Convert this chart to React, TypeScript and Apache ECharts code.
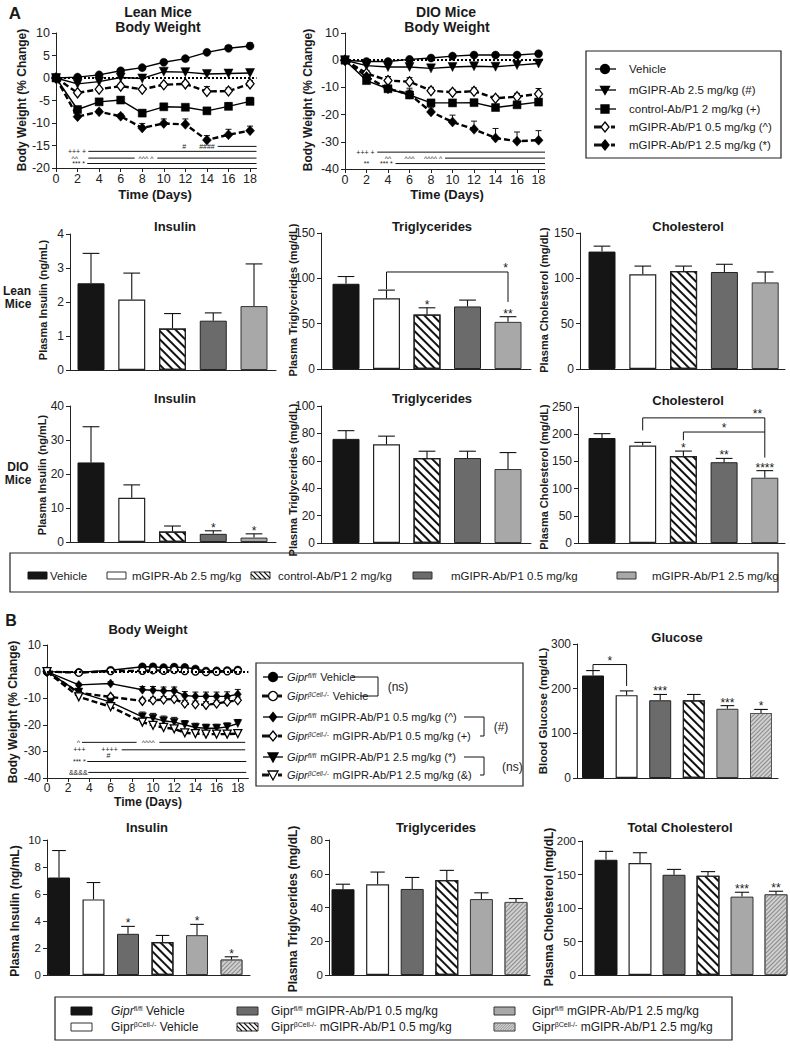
import React, { useEffect, useRef } from 'react';
import * as echarts from 'echarts';

const W = 790;
const H = 1054;
const FONT = '"Liberation Sans", Arial, Helvetica, sans-serif';
const NARROW = '"Liberation Sans Narrow", "Liberation Sans", Arial, sans-serif';
const INK = '#1a1a1a';

// ---------------- Panel A: body weight ----------------
const leanDays = [0, 2, 4, 6, 8, 10, 12, 14, 16, 18];
const leanVehicle = [0, 0.2, 0.7, 1.6, 2.3, 3.5, 4.3, 5.7, 6.6, 7.1];
const leanVehicleErr = [0, 0.3, 0.3, 0.4, 0.4, 0.5, 0.5, 0.5, 0.6, 0.7];
const leanAb = [0, -1.3, -0.8, 0.1, -0.1, 1.4, 1.3, 0.9, 1.0, 1.1];
const leanAbErr = [0, 0.3, 0.4, 0.4, 0.4, 0.5, 0.5, 0.5, 0.5, 0.5];
const leanCtrl = [0, -7, -5.3, -4.9, -7.8, -6.4, -6.5, -7.3, -6.3, -5.2];
const leanCtrlErr = [0, 0.5, 0.5, 0.5, 0.6, 0.6, 0.6, 0.6, 0.8, 0.9];
const leanP05 = [0, -3.3, -2.5, -1.8, -2.5, -1.5, -1.3, -3, -2.9, -1.3];
const leanP05Err = [0, 0.4, 0.4, 0.4, 0.4, 0.5, 0.5, 1.1, 0.7, 0.7];
const leanP25 = [0, -8.6, -7.5, -8.5, -11.1, -10.1, -10.3, -13.8, -12.6, -11.7];
const leanP25Err = [0, 0.4, 0.4, 0.5, 1.0, 1.0, 1.2, 1.0, 1.2, 1.0];

const dioDays = [0, 2, 4, 6, 8, 10, 12, 14, 16, 18];
const dioVehicle = [0, -0.5, -0.5, 0.3, 0.8, 1.5, 1.9, 1.9, 1.9, 2.4];
const dioVehicleErr = [0, 0.6, 0.6, 0.6, 0.7, 0.7, 0.7, 0.7, 0.7, 0.8];
const dioAb = [0, -2, -2.5, -2.5, -3, -2.5, -2.2, -2.4, -1.8, -1.2];
const dioAbErr = [0, 0.6, 0.6, 0.6, 0.6, 0.6, 0.6, 0.6, 0.7, 0.7];
const dioCtrl = [0, -7.5, -10.5, -12.8, -15.7, -15.7, -15.6, -17.4, -16.4, -15.4];
const dioCtrlErr = [0, 1, 1, 2.5, 1, 1, 1, 1, 1.2, 1.2];
const dioP05 = [0, -4.8, -7.5, -7.9, -11.2, -11.8, -11.4, -14, -13.4, -12.4];
const dioP05Err = [0, 1, 1.5, 1.5, 1.2, 1, 1.2, 1, 1.2, 2];
const dioP25 = [0, -6, -10.5, -12.5, -19, -22.7, -25.4, -28.6, -29.8, -29.4];
const dioP25Err = [0, 0.7, 1, 1.5, 1.5, 2.5, 3, 3.5, 3.4, 3.5];

const dayTicks = [0, 2, 4, 6, 8, 10, 12, 14, 16, 18];

// significance annotations: lines [x1, x2, y], texts [text, x, y]
const leanSigLines = [[3.0, 18.6, -16.3], [15.0, 18.6, -15.2], [3.0, 7.3, -17.8], [9.4, 18.6, -17.8], [2.9, 18.6, -19]];
const leanSigTexts: [string, number, number][] = [['+++ +', 1.95, -16.3], ['#', 11.9, -15.2], ['####', 14.0, -15.2], ['^^', 1.75, -17.8], ['^^^ ^', 8.35, -17.8], ['*** *', 2.1, -19]];
const dioSigLines = [[3.0, 18.6, -33.8], [9.3, 18.6, -36], [4.7, 18.6, -38]];
const dioSigTexts: [string, number, number][] = [['+++ +', 1.9, -33.8], ['^^', 4.0, -36], ['^^^', 6.0, -36], ['^^^^ ^', 8.2, -36], ['**', 2.0, -38], ['*** *', 3.85, -38]];

// ---------------- Panel A: plasma bars ----------------
const aGroups = ['Vehicle', 'mGIPR-Ab 2.5 mg/kg', 'control-Ab/P1 2 mg/kg', 'mGIPR-Ab/P1 0.5 mg/kg', 'mGIPR-Ab/P1 2.5 mg/kg'];
const aKinds = ['black', 'white', 'hatch', 'dark', 'grey'];
const leanInsulin = [2.55, 2.07, 1.22, 1.45, 1.88];
const leanInsulinSem = [0.88, 0.78, 0.44, 0.23, 1.24];
const leanTri = [94, 78, 60, 69, 52];
const leanTriSem = [8, 9, 7.5, 7, 5.7];
const leanTriStars = ['', '', '*', '', '**'];
const leanChol = [129.5, 104.5, 108, 107, 95.5];
const leanCholSem = [6, 9, 5.5, 8.5, 11.5];
const dioInsulin = [23.4, 13, 3.1, 2.4, 1.3];
const dioInsulinSem = [10.5, 3.8, 1.6, 0.9, 1.1];
const dioInsulinStars = ['', '', '', '*', '*'];
const dioTri = [76, 72, 62, 62, 54];
const dioTriSem = [6, 6, 5, 5, 12];
const dioChol = [193, 179, 160, 148.5, 120];
const dioCholSem = [8, 6, 9, 7, 13];
const dioCholStars = ['', '', '*', '**', '****'];
const leanTriBrackets = [{ from: 1, to: 4, yFrom: 88, yTop: 107, yTo: 74, at: 0.98, text: '*' }];
const dioCholBrackets = [
  { from: 1, to: 4, yFrom: 207, yTop: 230, yTo: 157, at: 0.94, text: '**' },
  { from: 2, to: 4, yFrom: 189, yTop: 204, yTo: 204, at: 0.5, text: '*' },
];

// ---------------- Panel B ----------------
const bDays = [0, 3, 6, 9, 10, 11, 12, 13, 14, 15, 16, 17, 18];
const bFlVeh = [0, -0.3, 0.5, 1.8, 1.8, 1.5, 1.7, 1.6, 1.0, 0.2, 0.3, 0.4, 0.6];
const bFlVehErr = [0, 0.5, 0.5, 0.8, 0.9, 0.9, 0.9, 0.9, 0.8, 0.6, 0.7, 0.8, 1.0];
const bBcVeh = [0, -0.4, 0.2, 0.3, 0.5, 0.3, 0.6, 0.2, 0, -0.2, -0.1, 0.1, 0.3];
const bBcVehErr = [0, 0.5, 0.6, 0.8, 0.8, 0.8, 0.8, 0.8, 0.8, 0.7, 0.7, 0.7, 0.8];
const bFl05 = [0, -5, -4.5, -6.8, -7, -7.2, -7.2, -9, -9.3, -9.3, -9.3, -9.3, -8.5];
const bFl05Err = [0, 0.6, 0.7, 1.2, 1.4, 1.4, 1.4, 1.5, 1.6, 1.6, 1.6, 1.7, 1.8];
const bBc05 = [0, -8, -9.5, -11, -10.8, -10.5, -10.3, -12, -12.3, -12.5, -12, -11.3, -10.8];
const bBc05Err = [0, 0.6, 0.7, 1.0, 1.1, 1.1, 1.1, 1.2, 1.2, 1.2, 1.2, 1.2, 1.2];
const bFl25 = [0, -7.7, -11.5, -17, -17.5, -18.5, -19, -20, -21, -21.3, -21.3, -20.8, -19.5];
const bFl25Err = [0, 0.7, 0.8, 1.8, 1.8, 1.8, 1.8, 1.6, 1.6, 1.5, 1.5, 1.5, 1.5];
const bBc25 = [0, -9.5, -13.2, -19, -20.2, -21, -21.5, -23, -23.3, -23.5, -23.5, -23.5, -23.3];
const bBc25Err = [0, 0.6, 0.8, 1.2, 1.2, 1.2, 1.2, 1.2, 1.2, 1.2, 1.2, 1.2, 1.2];
const bSigLines = [[3.3, 8.45, -26.6], [10.6, 18.7, -26.6], [7.05, 18.7, -29.4], [3.8, 18.8, -33.8], [3.9, 18.8, -37.9]];
const bSigTexts: [string, number, number][] = [['^', 2.95, -26.6], ['^^^^', 9.55, -26.6], ['+++', 3.05, -29.4], ['++++', 5.9, -29.4], ['#', 5.8, -31.6], ['*** *', 3.05, -33.8], ['&&&&', 2.95, -37.9]];

const bKinds = ['black', 'white', 'dark', 'hatch', 'grey', 'lighthatch'];
const glucose = [229.5, 185.5, 174, 174, 155, 145.5];
const glucoseSem = [11, 9.5, 13, 13, 7, 8];
const glucoseStars = ['', '', '***', '', '***', '*'];
const glucoseBrackets = [{ from: 0, to: 1, yFrom: 242, yTop: 254, yTo: 206, at: 0.5, text: '*' }];
const bInsulin = [7.22, 5.6, 3.05, 2.45, 2.95, 1.15];
const bInsulinSem = [2.0, 1.25, 0.55, 0.48, 0.8, 0.2];
const bInsulinStars = ['', '', '*', '', '*', '*'];
const bTri = [50.8, 53.8, 51, 56.3, 45, 43.3];
const bTriSem = [3, 7.2, 6.8, 5.7, 3.7, 2];
const bChol = [172, 167, 149.6, 148.3, 117, 120.5];
const bCholSem = [12.5, 15.5, 8, 6, 6.5, 4.5];
const bCholStars = ['', '', '', '', '***', '**'];

// ---------------- styles ----------------
const HATCH = { symbol: 'rect', symbolSize: 1, color: '#111', dashArrayX: [1, 0], dashArrayY: [1.2, 3.8], rotation: Math.PI / 4 };
const FINE_HATCH = { symbol: 'rect', symbolSize: 1, color: '#8a8a8a', dashArrayX: [1, 0], dashArrayY: [1, 1.6], rotation: -Math.PI / 4 };
const FILL: Record<string, any> = {
  black: { color: '#151515', borderColor: '#151515', borderWidth: 1 },
  white: { color: '#ffffff', borderColor: '#222', borderWidth: 1.2 },
  hatch: { color: '#ffffff', borderColor: '#222', borderWidth: 1.2, decal: HATCH },
  dark: { color: '#6b6b6b', borderColor: '#222', borderWidth: 1 },
  grey: { color: '#a8a8a8', borderColor: '#333', borderWidth: 1 },
  lighthatch: { color: '#d0d0d0', borderColor: '#555', borderWidth: 1, decal: FINE_HATCH },
};

const txtStyle = (text: string, fs: number) => ({
  text, fontSize: fs, fontFamily: FONT, fill: INK, align: 'center', verticalAlign: 'middle',
});

function buildOption() {
  const grids: any[] = [];
  const xAxes: any[] = [];
  const yAxes: any[] = [];
  const series: any[] = [];
  const graphic: any[] = [];
  const axisLine = { show: true, onZero: false, lineStyle: { color: '#222', width: 1 } };

  function lineGrid(o: any) {
    const idx = grids.length;
    grids.push({ left: o.left, top: o.top, width: o.width, height: o.height });
    xAxes.push({
      type: 'value', gridIndex: idx, min: 0, max: o.xMax, interval: 2,
      axisLine, axisTick: { show: true, length: 4, customValues: dayTicks, lineStyle: { color: '#222' } },
      axisLabel: { show: true, customValues: dayTicks, fontSize: o.fs, fontFamily: o.font, color: '#222', margin: 4 },
      splitLine: { show: false },
    });
    yAxes.push({
      type: 'value', gridIndex: idx, min: o.yMin, max: o.yMax, interval: o.yInt,
      axisLine, axisTick: { show: true, length: 4, lineStyle: { color: '#222' } },
      axisLabel: { fontSize: o.fs, fontFamily: o.font, color: '#222', margin: 6 },
      splitLine: { show: false },
    });
    return idx;
  }

  function barGrid(o: any) {
    const idx = grids.length;
    const width = o.right - o.axisX;
    const min = -(o.first - o.axisX) / o.spacing;
    const max = min + width / o.spacing;
    grids.push({ left: o.axisX, top: o.top, width, height: o.height });
    xAxes.push({
      type: 'value', gridIndex: idx, min, max,
      axisLine, axisTick: { show: false }, axisLabel: { show: false }, splitLine: { show: false },
    });
    yAxes.push({
      type: 'value', gridIndex: idx, min: 0, max: o.yMax, interval: o.yInt,
      axisLine, axisTick: { show: true, length: 4, lineStyle: { color: '#222' } },
      axisLabel: { fontSize: o.fs, fontFamily: o.font, color: '#222', margin: 6 },
      splitLine: { show: false },
    });
    series.push({
      type: 'bar', xAxisIndex: idx, yAxisIndex: idx, barWidth: o.bw, silent: true, z: 2,
      data: o.values.map((v: number, i: number) => ({ value: [i, v], itemStyle: FILL[o.kinds[i]] })),
    });
    series.push(errSeries(idx, o.values.map((_: number, i: number) => i), o.values, o.sem, o.bw * 0.62, o.stars, 1.1, 12));
    if (o.brackets) series.push(bracketSeries(idx, o.brackets));
    return idx;
  }

  function errSeries(g: number, xs: number[], ys: number[], errs: number[], cap: number, stars?: string[], lw = 1, starFs = 12) {
    return {
      type: 'custom', xAxisIndex: g, yAxisIndex: g, silent: true, clip: false, z: 3,
      itemStyle: { color: INK },
      data: xs.map((x, i) => [x, ys[i], errs[i]]),
      renderItem: (params: any, api: any) => {
        const x = api.value(0), y = api.value(1), e = api.value(2);
        const p0 = api.coord([x, y]);
        const p1 = api.coord([x, y + e]);
        const st = { stroke: '#111', lineWidth: lw };
        const children: any[] = [];
        if (e > 0) {
          children.push({ type: 'line', shape: { x1: p0[0], y1: p0[1], x2: p1[0], y2: p1[1] }, style: st });
          children.push({ type: 'line', shape: { x1: p1[0] - cap / 2, y1: p1[1], x2: p1[0] + cap / 2, y2: p1[1] }, style: st });
        }
        const s = stars && stars[params.dataIndex];
        if (s) children.push({ type: 'text', x: p1[0], y: p1[1] - 3, style: txtStyle(s, starFs) });
        return { type: 'group', children };
      },
    };
  }

  function bracketSeries(g: number, brackets: any[]) {
    return {
      type: 'custom', xAxisIndex: g, yAxisIndex: g, silent: true, clip: false, z: 4,
      itemStyle: { color: INK },
      data: brackets.map((b) => [b.from, b.yTop]),
      renderItem: (params: any, api: any) => {
        const b = brackets[params.dataIndex];
        const a0 = api.coord([b.from, b.yFrom]);
        const a1 = api.coord([b.from, b.yTop]);
        const c1 = api.coord([b.to, b.yTop]);
        const c0 = api.coord([b.to, b.yTo]);
        const lx = a1[0] + (c1[0] - a1[0]) * b.at;
        return {
          type: 'group', children: [
            { type: 'polyline', shape: { points: [a0, a1, c1, c0] }, style: { stroke: '#111', lineWidth: 1, fill: 'none' } },
            { type: 'text', x: lx, y: a1[1] - 4, style: txtStyle(b.text, 12) },
          ],
        };
      },
    };
  }

  function sigSeries(g: number, lines: number[][], texts: [string, number, number][], fs: number) {
    series.push({
      type: 'custom', xAxisIndex: g, yAxisIndex: g, silent: true, clip: false, z: 5,
      itemStyle: { color: INK },
      data: lines.map((l) => [l[0], l[2]]),
      renderItem: (params: any, api: any) => {
        const l = lines[params.dataIndex];
        const a = api.coord([l[0], l[2]]);
        const b = api.coord([l[1], l[2]]);
        return { type: 'line', shape: { x1: a[0], y1: a[1], x2: b[0], y2: b[1] }, style: { stroke: '#111', lineWidth: 1 } };
      },
    });
    series.push({
      type: 'custom', xAxisIndex: g, yAxisIndex: g, silent: true, clip: false, z: 5,
      itemStyle: { color: INK },
      data: texts.map((t) => [t[1], t[2]]),
      renderItem: (params: any, api: any) => {
        const t = texts[params.dataIndex];
        const p = api.coord([t[1], t[2]]);
        return { type: 'text', x: p[0], y: p[1], style: txtStyle(t[0], fs) };
      },
    });
  }

  function lineSeries(g: number, days: number[], vals: number[], errs: number[], o: any) {
    series.push(errSeries(g, days, vals, errs, 6, undefined, 1));
    const s: any = {
      type: 'line', xAxisIndex: g, yAxisIndex: g, silent: true, z: 4,
      data: days.map((d, i) => [d, vals[i]]),
      symbol: o.symbol, symbolSize: o.size, symbolRotate: o.rotate || 0, showSymbol: true,
      lineStyle: { color: '#000', width: o.dashed ? 2.4 : 1.4, type: o.dashed ? [6, 3] : 'solid' },
      itemStyle: { color: o.open ? '#fff' : '#000', borderColor: '#000', borderWidth: o.open ? 1.3 : 0.5 },
    };
    if (o.zero) {
      s.markLine = { silent: true, symbol: 'none', label: { show: false }, animation: false, lineStyle: { color: '#000', width: 2, type: [2, 2] }, data: [{ yAxis: 0 }] };
    }
    series.push(s);
  }

  // ---------- A: body weight ----------
  const gLean = lineGrid({ left: 56, top: 33, width: 200.5, height: 135, xMax: 18.6, yMin: -20, yMax: 10, yInt: 5, fs: 12.5, font: FONT });
  sigSeries(gLean, leanSigLines, leanSigTexts, 7);
  lineSeries(gLean, leanDays, leanVehicle, leanVehicleErr, { symbol: 'circle', size: 8, zero: true });
  lineSeries(gLean, leanDays, leanAb, leanAbErr, { symbol: 'triangle', size: 9, rotate: 180 });
  lineSeries(gLean, leanDays, leanCtrl, leanCtrlErr, { symbol: 'rect', size: 8 });
  lineSeries(gLean, leanDays, leanP05, leanP05Err, { symbol: 'diamond', size: [8, 10], open: true, dashed: true });
  lineSeries(gLean, leanDays, leanP25, leanP25Err, { symbol: 'diamond', size: [9, 10], dashed: true });

  const gDio = lineGrid({ left: 345, top: 33, width: 200, height: 136, xMax: 18.6, yMin: -40, yMax: 10, yInt: 10, fs: 12.5, font: FONT });
  sigSeries(gDio, dioSigLines, dioSigTexts, 7);
  lineSeries(gDio, dioDays, dioVehicle, dioVehicleErr, { symbol: 'circle', size: 8, zero: true });
  lineSeries(gDio, dioDays, dioAb, dioAbErr, { symbol: 'triangle', size: 9, rotate: 180 });
  lineSeries(gDio, dioDays, dioCtrl, dioCtrlErr, { symbol: 'rect', size: 8 });
  lineSeries(gDio, dioDays, dioP05, dioP05Err, { symbol: 'diamond', size: [8, 10], open: true, dashed: true });
  lineSeries(gDio, dioDays, dioP25, dioP25Err, { symbol: 'diamond', size: [9, 10], dashed: true });

  // ---------- A: bars ----------
  const common = { fs: 12, font: FONT, bw: 27, kinds: aKinds };
  barGrid({ ...common, axisX: 70, top: 234, height: 136, first: 91, spacing: 40.75, right: 276, yMax: 4, yInt: 1, values: leanInsulin, sem: leanInsulinSem });
  barGrid({ ...common, axisX: 321, top: 233, height: 136, first: 346, spacing: 40.5, right: 531, yMax: 150, yInt: 50, values: leanTri, sem: leanTriSem, stars: leanTriStars, brackets: leanTriBrackets });
  barGrid({ ...common, axisX: 580, top: 233, height: 136, first: 602, spacing: 40.8, right: 785, yMax: 150, yInt: 50, values: leanChol, sem: leanCholSem });
  barGrid({ ...common, axisX: 70, top: 406, height: 136, first: 91, spacing: 40.75, right: 276, yMax: 40, yInt: 10, values: dioInsulin, sem: dioInsulinSem, stars: dioInsulinStars });
  barGrid({ ...common, axisX: 321, top: 406, height: 137, first: 346, spacing: 40.5, right: 531, yMax: 100, yInt: 20, values: dioTri, sem: dioTriSem });
  barGrid({ ...common, axisX: 578, top: 407, height: 136, first: 602, spacing: 40.7, right: 785, yMax: 250, yInt: 50, values: dioChol, sem: dioCholSem, stars: dioCholStars, brackets: dioCholBrackets });

  // ---------- B: body weight ----------
  const gB = lineGrid({ left: 47, top: 645, width: 201.4, height: 133, xMax: 19, yMin: -40, yMax: 10, yInt: 10, fs: 12, font: FONT });
  sigSeries(gB, bSigLines, bSigTexts, 7);
  lineSeries(gB, bDays, bFlVeh, bFlVehErr, { symbol: 'circle', size: 8, zero: true });
  lineSeries(gB, bDays, bBcVeh, bBcVehErr, { symbol: 'circle', size: 7, open: true, dashed: true });
  lineSeries(gB, bDays, bFl05, bFl05Err, { symbol: 'diamond', size: [7, 9] });
  lineSeries(gB, bDays, bBc05, bBc05Err, { symbol: 'diamond', size: [7, 9], open: true, dashed: true });
  lineSeries(gB, bDays, bFl25, bFl25Err, { symbol: 'triangle', size: 8, rotate: 180 });
  lineSeries(gB, bDays, bBc25, bBc25Err, { symbol: 'triangle', size: 8, rotate: 180, open: true, dashed: true });

  // ---------- B: bars ----------
  const bc = { fs: 11.5, font: NARROW, kinds: bKinds };
  barGrid({ ...bc, fs: 12, font: FONT, bw: 22, axisX: 577, top: 644, height: 134, first: 593, spacing: 33.6, right: 778, yMax: 300, yInt: 100, values: glucose, sem: glucoseSem, stars: glucoseStars, brackets: glucoseBrackets });
  barGrid({ ...bc, bw: 22, axisX: 47, top: 840, height: 135, first: 59, spacing: 34.5, right: 250, yMax: 10, yInt: 2, values: bInsulin, sem: bInsulinSem, stars: bInsulinStars });
  barGrid({ ...bc, bw: 23, axisX: 329, top: 840, height: 135, first: 343, spacing: 34.6, right: 530, yMax: 80, yInt: 20, values: bTri, sem: bTriSem });
  barGrid({ ...bc, bw: 23, axisX: 582, top: 841, height: 134, first: 606, spacing: 34, right: 786, yMax: 200, yInt: 50, values: bChol, sem: bCholSem, stars: bCholStars });

  // ---------- graphic texts ----------
  const T = (text: string, x: number, y: number, o: any = {}) => ({
    type: 'text', x, y, rotation: o.rot || 0, z: 50,
    style: {
      text, fill: o.fill || INK, fontSize: o.fs || 12, fontWeight: o.bold ? 'bold' : 'normal', fontStyle: o.italic ? 'italic' : 'normal',
      fontFamily: o.font || FONT, align: o.align || 'center', verticalAlign: o.va || 'middle',
      rich: o.rich,
    },
  });
  const R90 = Math.PI / 2;
  graphic.push(T('A', 15, 13, { bold: true, fs: 17 }));
  graphic.push(T('Lean Mice', 158, 12, { bold: true, fs: 14 }));
  graphic.push(T('Body Weight', 158, 27, { bold: true, fs: 14 }));
  graphic.push(T('DIO Mice', 446, 12, { bold: true, fs: 14 }));
  graphic.push(T('Body Weight', 447, 27, { bold: true, fs: 14 }));
  graphic.push(T('Time (Days)', 155, 194, { bold: true, fs: 13 }));
  graphic.push(T('Time (Days)', 447, 194, { bold: true, fs: 13 }));
  graphic.push(T('Body Weight (% Change)', 22, 100, { bold: true, fs: 12, rot: R90 }));
  graphic.push(T('Body Weight (% Change)', 308, 100, { bold: true, fs: 12, rot: R90 }));

  graphic.push(T('Insulin', 175, 226, { bold: true, fs: 13 }));
  graphic.push(T('Triglycerides', 432, 226, { bold: true, fs: 13 }));
  graphic.push(T('Cholesterol', 688, 226, { bold: true, fs: 13 }));
  graphic.push(T('Insulin', 175, 398, { bold: true, fs: 13 }));
  graphic.push(T('Triglycerides', 432, 398, { bold: true, fs: 13 }));
  graphic.push(T('Cholesterol', 688, 400, { bold: true, fs: 13 }));
  graphic.push(T('Plasma Insulin (ng/mL)', 43, 300, { bold: true, fs: 11, rot: R90 }));
  graphic.push(T('Plasma Triglycerides (mg/dL)', 293, 300, { bold: true, fs: 11, rot: R90 }));
  graphic.push(T('Plasma Cholesterol (mg/dL)', 544, 300, { bold: true, fs: 11, rot: R90 }));
  graphic.push(T('Plasma Insulin (ng/mL)', 42, 475, { bold: true, fs: 11, rot: R90 }));
  graphic.push(T('Plasma Triglycerides (mg/dL)', 293, 480, { bold: true, fs: 11, rot: R90 }));
  graphic.push(T('Plasma Cholesterol (mg/dL)', 544, 477, { bold: true, fs: 11, rot: R90 }));
  graphic.push(T('Lean', 17, 291, { bold: true, fs: 12 }));
  graphic.push(T('Mice', 18, 304, { bold: true, fs: 12 }));
  graphic.push(T('DIO', 18, 467, { bold: true, fs: 12 }));
  graphic.push(T('Mice', 18, 480, { bold: true, fs: 12 }));

  graphic.push(T('B', 11, 620, { bold: true, fs: 16 }));
  graphic.push(T('Body Weight', 148, 629, { bold: true, fs: 13 }));
  graphic.push(T('Time (Days)', 148, 802, { bold: true, fs: 12, font: NARROW }));
  graphic.push(T('Body Weight (% Change)', 13, 712, { bold: true, fs: 12, rot: R90 }));
  graphic.push(T('Glucose', 677, 637, { bold: true, fs: 13 }));
  graphic.push(T('Blood Glucose (mg/dL)', 543, 711, { bold: true, fs: 11.5, rot: R90 }));
  graphic.push(T('Insulin', 147, 827, { bold: true, fs: 13, font: NARROW }));
  graphic.push(T('Triglycerides', 436, 827, { bold: true, fs: 13, font: NARROW }));
  graphic.push(T('Total Cholesterol', 680, 827, { bold: true, fs: 13, font: NARROW }));
  graphic.push(T('Plasma Insulin (ng/mL)', 15, 911, { bold: true, fs: 12, rot: R90 }));
  graphic.push(T('Plasma Triglycerides (mg/dL)', 293, 909, { bold: true, fs: 12, rot: R90, font: NARROW }));
  graphic.push(T('Plasma Cholesterol (mg/dL)', 549, 907, { bold: true, fs: 12, rot: R90, font: NARROW }));

  // ---------- legend helpers ----------
  const box = (x: number, y: number, w: number, h: number) => ({ type: 'rect', z: 40, shape: { x, y, width: w, height: h }, style: { fill: '#fff', stroke: '#222', lineWidth: 1.2 } });
  const sym = (kind: string, cx: number, cy: number, s: number, open: boolean) => {
    const style = { fill: open ? '#fff' : '#000', stroke: '#000', lineWidth: 1.3 };
    const z = 52;
    if (kind === 'circle') return { type: 'circle', z, shape: { cx, cy, r: s / 2 }, style };
    if (kind === 'rect') return { type: 'rect', z, shape: { x: cx - s / 2, y: cy - s / 2, width: s, height: s }, style };
    if (kind === 'diamond') return { type: 'polygon', z, shape: { points: [[cx, cy - s / 2], [cx + s * 0.4, cy], [cx, cy + s / 2], [cx - s * 0.4, cy]] }, style };
    return { type: 'polygon', z, shape: { points: [[cx - s / 2, cy - s * 0.4], [cx + s / 2, cy - s * 0.4], [cx, cy + s * 0.5]] }, style };
  };
  const seg = (x1: number, y1: number, x2: number, y2: number, lw = 1.3, color = '#111') => ({ type: 'line', z: 51, shape: { x1, y1, x2, y2 }, style: { stroke: color, lineWidth: lw } });
  const swatch = (kind: string, x: number, y: number, w: number, h: number) => {
    const els: any[] = [];
    const base: any = { black: '#151515', white: '#fff', hatch: '#fff', dark: '#6b6b6b', grey: '#a8a8a8', lighthatch: '#d0d0d0' };
    els.push({ type: 'rect', z: 51, shape: { x, y, width: w, height: h }, style: { fill: base[kind], stroke: kind === 'black' ? '#151515' : '#333', lineWidth: 1 } });
    if (kind === 'hatch' || kind === 'lighthatch') {
      const step = kind === 'hatch' ? 5 : 2.6;
      const col = kind === 'hatch' ? '#111' : '#888';
      for (let k = -h; k < w; k += step) {
        let xa = x + k, ya = y, xb = x + k + h, yb = y + h;
        if (kind === 'lighthatch') { ya = y + h; yb = y; }
        if (xa < x) { const d = x - xa; xa = x; ya = kind === 'hatch' ? ya + d : ya - d; }
        if (xb > x + w) { const d = xb - (x + w); xb = x + w; yb = kind === 'hatch' ? yb - d : yb + d; }
        if (xb > xa) els.push({ type: 'line', z: 52, shape: { x1: xa, y1: ya, x2: xb, y2: yb }, style: { stroke: col, lineWidth: kind === 'hatch' ? 1.1 : 0.8 } });
      }
    }
    return els;
  };

  // Legend A (lines)
  graphic.push(box(586, 51, 195, 107));
  const legA = [
    { label: 'Vehicle', kind: 'circle', open: false, dashed: false, s: 9 },
    { label: 'mGIPR-Ab 2.5 mg/kg (#)', kind: 'tri', open: false, dashed: false, s: 9 },
    { label: 'control-Ab/P1 2 mg/kg (+)', kind: 'rect', open: false, dashed: false, s: 8 },
    { label: 'mGIPR-Ab/P1 0.5 mg/kg (^)', kind: 'diamond', open: true, dashed: true, s: 10 },
    { label: 'mGIPR-Ab/P1 2.5 mg/kg (*)', kind: 'diamond', open: false, dashed: true, s: 10 },
  ];
  const legAY = [69, 90, 109, 127, 145];
  legA.forEach((e, i) => {
    const y = legAY[i];
    if (e.dashed) { graphic.push(seg(594, y, 601, y, 3)); graphic.push(seg(611, y, 615, y, 3)); }
    else graphic.push(seg(595, y, 616, y, 1.4));
    graphic.push(sym(e.kind, 605, y, e.s, e.open));
    graphic.push(T(e.label, 629, y, { fs: 11.5, align: 'left' }));
  });

  // Legend A (bars)
  graphic.push(box(10, 553, 768, 39));
  const legBarSwX = [28, 107, 251, 413, 617];
  const legBarTxX = [50, 132, 278, 451, 652];
  aGroups.forEach((g, i) => {
    swatch(aKinds[i], legBarSwX[i], 572, 19, 7).forEach((e) => graphic.push(e));
    graphic.push(T(g, legBarTxX[i], 575.5, { fs: 11.5, align: 'left' }));
  });

  // Legend B (lines)
  graphic.push(box(256, 663, 267, 123));
  const richB = {
    i: { fontStyle: 'italic', fontSize: 11, fontFamily: FONT, fill: INK },
    s: { fontStyle: 'italic', fontSize: 6.5, fontFamily: FONT, fill: INK, verticalAlign: 'top', padding: [0, 1, 0, 0] },
    n: { fontSize: 11, fontFamily: FONT, fill: INK },
  };
  const legB = [
    { sup: 'fl/fl', rest: ' Vehicle', kind: 'circle', open: false, dashed: false, s: 9 },
    { sup: 'βCell-/-', rest: ' Vehicle', kind: 'circle', open: true, dashed: true, s: 9 },
    { sup: 'fl/fl', rest: ' mGIPR-Ab/P1 0.5 mg/kg (^)', kind: 'diamond', open: false, dashed: false, s: 9 },
    { sup: 'βCell-/-', rest: ' mGIPR-Ab/P1 0.5 mg/kg (+)', kind: 'diamond', open: true, dashed: true, s: 10 },
    { sup: 'fl/fl', rest: ' mGIPR-Ab/P1 2.5 mg/kg (*)', kind: 'tri', open: false, dashed: false, s: 10 },
    { sup: 'βCell-/-', rest: ' mGIPR-Ab/P1 2.5 mg/kg (&)', kind: 'tri', open: true, dashed: true, s: 10 },
  ];
  const legBY = [677, 696, 717, 736, 757, 775];
  legB.forEach((e, i) => {
    const y = legBY[i];
    if (e.dashed) { graphic.push(seg(262, y, 269, y, 3)); graphic.push(seg(278, y, 282, y, 3)); }
    else graphic.push(seg(263, y, 283, y, 1.4));
    graphic.push(sym(e.kind, 273, y, e.s, e.open));
    graphic.push(T(`{i|Gipr}{s|${e.sup}}{n|${e.rest}}`, 287, y, { align: 'left', rich: richB }));
  });
  const bracketL = (xa: number, xb: number, xr: number, y1: number, y2: number) => ({ type: 'polyline', z: 51, shape: { points: [[xa, y1], [xr, y1], [xr, y2], [xb, y2]] }, style: { stroke: '#111', lineWidth: 1, fill: 'none' } });
  graphic.push(bracketL(352, 360, 378, 677, 696));
  graphic.push(T('(ns)', 398, 687, { fs: 12 }));
  graphic.push(bracketL(464, 480, 484, 717, 736));
  graphic.push(T('(#)', 501, 727, { fs: 12 }));
  graphic.push(bracketL(464, 480, 484, 757, 775));
  graphic.push(T('(ns)', 502, 767, { fs: 12, align: 'left' }));

  // Legend B (bars)
  graphic.push(box(55, 997, 677, 43));
  const richBot = {
    i: { fontStyle: 'italic', fontSize: 12, fontFamily: NARROW, fill: INK },
    s: { fontSize: 7, fontFamily: NARROW, fill: INK, verticalAlign: 'top' },
    n: { fontSize: 12, fontFamily: NARROW, fill: INK },
  };
  const botLabels = [
    '{i|Gipr}{s|fl/fl}{n| Vehicle}',
    '{n|Gipr}{s|βCell-/-}{n| Vehicle}',
    '{n|Gipr}{s|fl/fl}{n| mGIPR-Ab/P1 0.5 mg/kg}',
    '{n|Gipr}{s|βCell-/-}{n| mGIPR-Ab/P1 0.5 mg/kg}',
    '{n|Gipr}{s|fl/fl}{n| mGIPR-Ab/P1 2.5 mg/kg}',
    '{n|Gipr}{s|βCell-/-}{n| mGIPR-Ab/P1 2.5 mg/kg}',
  ];
  const botSwX = [71, 71, 237, 237, 494, 494];
  const botTxX = [111, 111, 271, 271, 532, 532];
  const botY = [1011, 1027, 1011, 1027, 1011, 1027];
  botLabels.forEach((lab, i) => {
    swatch(bKinds[i], botSwX[i], botY[i] - 4, 21, 8).forEach((e) => graphic.push(e));
    graphic.push(T(lab, botTxX[i], botY[i], { align: 'left', rich: richBot }));
  });

  return {
    animation: false,
    backgroundColor: '#ffffff',
    color: [INK],
    textStyle: { fontFamily: FONT, color: INK },
    grid: grids,
    xAxis: xAxes,
    yAxis: yAxes,
    series,
    graphic: { elements: graphic },
  };
}

export default function App() {
  const ref = useRef<HTMLDivElement>(null);
  useEffect(() => {
    document.body.style.margin = '0';
    const chart = echarts.init(ref.current as HTMLDivElement, null, { renderer: 'svg', width: W, height: H });
    chart.setOption(buildOption() as any);
    return () => chart.dispose();
  }, []);
  return <div ref={ref} style={{ position: 'absolute', left: 0, top: 0, width: W, height: H, background: '#fff' }} />;
}
